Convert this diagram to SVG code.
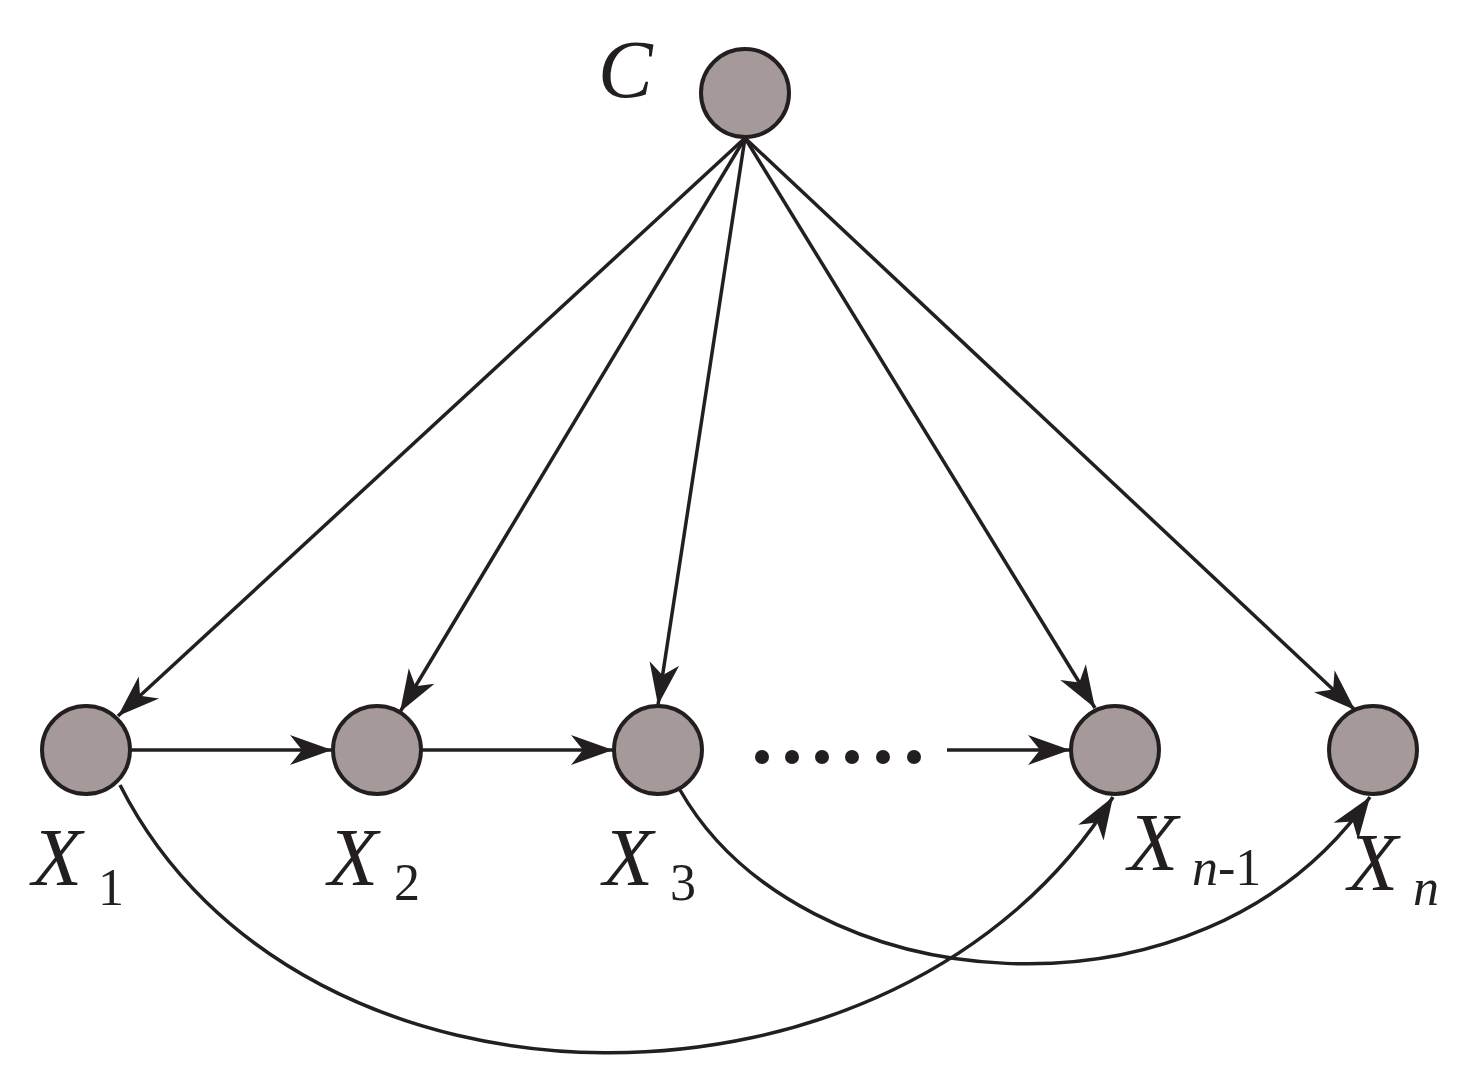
<svg xmlns="http://www.w3.org/2000/svg" width="1483" height="1090" viewBox="0 0 1483 1090">
<style>
.n{fill:#a69999;stroke:#231f20;stroke-width:4}
.e{fill:none;stroke:#231f20;stroke-width:3.5;marker-end:url(#a)}
.t{font-family:"Liberation Serif",serif;font-style:italic;font-size:82px;fill:#231f20}
.s{font-family:"Liberation Serif",serif;font-size:52px;fill:#231f20}
</style>
<defs><marker id="a" markerUnits="userSpaceOnUse" markerWidth="60" markerHeight="40" viewBox="-44 -20 48 40" refX="0" refY="0" orient="auto"><path d="M0,0 L-42,-15 L-30,0 L-42,15 Z" fill="#231f20"/></marker></defs>
<rect width="1483" height="1090" fill="#fff"/>
<g id="edges">
<line class="e" x1="745" y1="138" x2="118" y2="716"/>
<line class="e" x1="745" y1="138" x2="400" y2="712"/>
<line class="e" x1="745" y1="138" x2="658" y2="705"/>
<line class="e" x1="745" y1="138" x2="1095" y2="708"/>
<line class="e" x1="745" y1="138" x2="1355" y2="710"/>
<line class="e" x1="130" y1="750" x2="332" y2="750"/>
<line class="e" x1="421" y1="750" x2="613" y2="750"/>
<line class="e" x1="947" y1="750" x2="1070" y2="750"/>
<path class="e" d="M120,785 C300,1140 900,1140 1113,797"/>
<path class="e" d="M680,790 C800,1000 1200,1040 1370,797"/>
</g>
<g id="dots" fill="#231f20"><circle cx="762" cy="757" r="7"/><circle cx="792" cy="757" r="7"/><circle cx="822" cy="757" r="7"/><circle cx="852" cy="757" r="7"/><circle cx="883" cy="757" r="7"/><circle cx="914" cy="757" r="7"/></g>
<g id="C"><circle class="n" cx="745" cy="93" r="44"/><text class="t" x="598" y="97">C</text></g>
<g id="X1"><circle class="n" cx="86" cy="750" r="44"/><text class="t" x="32" y="885">X</text><text class="s" x="98" y="905">1</text></g>
<g id="X2"><circle class="n" cx="377" cy="750" r="44"/><text class="t" x="328" y="885">X</text><text class="s" x="394" y="900">2</text></g>
<g id="X3"><circle class="n" cx="658" cy="750" r="44"/><text class="t" x="603" y="885">X</text><text class="s" x="670" y="900">3</text></g>
<g id="Xn-1"><circle class="n" cx="1115" cy="750" r="44"/><text class="t" x="1128" y="870">X</text><text class="s" x="1192" y="885"><tspan font-style="italic">n</tspan>-1</text></g>
<g id="Xn"><circle class="n" cx="1373" cy="750" r="44"/><text class="t" x="1348" y="890">X</text><text class="s" x="1413" y="905" font-style="italic">n</text></g>
</svg>
